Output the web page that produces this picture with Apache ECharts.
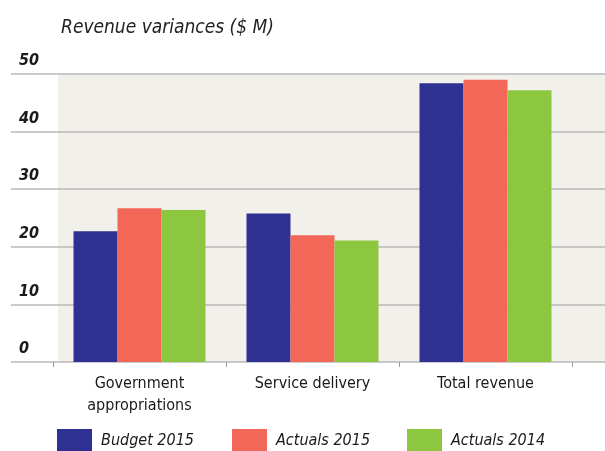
<!DOCTYPE html>
<html>
<head>
<meta charset="utf-8">
<script src="https://cdn.jsdelivr.net/npm/echarts@6/dist/echarts.min.js"></script>
<style>
  html, body { margin: 0; padding: 0; background: #fff; }
  #main { width: 605px; height: 451px; }
</style>
</head>
<body>
<div id="main"></div>
<script>
var categories = ['Government\nappropriations', 'Service delivery', 'Total revenue'];
var seriesNames = ['Budget 2015', 'Actuals 2015', 'Actuals 2014'];
var budget2015 = [22.7, 25.8, 48.4];
var actuals2015 = [26.7, 22.0, 49.0];
var actuals2014 = [26.4, 21.1, 47.2];
var yTicks = [0, 10, 20, 30, 40, 50];

var colors = ['#2e3192', '#f26757', '#8dc63f'];
var font = '"DejaVu Sans Condensed", "Liberation Sans Narrow", sans-serif';

var myChart = echarts.init(document.getElementById('main'));

function bar(name, data, color) {
  return {
    name: name,
    type: 'bar',
    xAxisIndex: 2,
    yAxisIndex: 2,
    barWidth: 44,
    barGap: '0%',
    itemStyle: { color: color },
    data: data
  };
}

// one legend per item so they sit on a fixed spacing
var legendLefts = [57, 232, 407];
var legends = seriesNames.map(function (name, i) {
  return {
    left: legendLefts[i],
    top: 429,
    padding: 0,
    itemWidth: 35,
    itemHeight: 24,
    icon: 'rect',
    data: [name],
    textStyle: {
      fontFamily: font, fontStyle: 'italic', fontSize: 16, color: '#1a1a1a',
      padding: [0, 0, 0, 4]
    }
  };
});

var option = {
  animation: false,
  color: colors,
  title: {
    text: 'Revenue variances ($ M)',
    left: 56,
    top: 14,
    textStyle: { fontFamily: font, fontStyle: 'italic', fontWeight: 'normal', fontSize: 19, color: '#222' }
  },
  legend: legends,
  grid: [
    // shaded plot background
    { left: 58, right: 0, top: 74, bottom: 89, show: true, backgroundColor: '#f2f0eb', borderWidth: 0 },
    // gridlines running out to the labels
    { left: 11, right: 0, top: 74, bottom: 89 },
    // bars
    { left: 53, right: 33, top: 74, bottom: 89 }
  ],
  xAxis: [
    { gridIndex: 0, type: 'value', show: false },
    { gridIndex: 1, type: 'value', show: false },
    {
      gridIndex: 2,
      type: 'category',
      data: categories,
      axisLine: { show: false },
      axisTick: { show: true, length: 5, lineStyle: { color: '#999' } },
      axisLabel: { margin: 11, fontFamily: font, fontSize: 16, lineHeight: 22, color: '#1a1a1a' }
    }
  ],
  yAxis: [
    { gridIndex: 0, type: 'value', show: false },
    {
      gridIndex: 1,
      type: 'value',
      min: yTicks[0],
      max: yTicks[yTicks.length - 1],
      interval: 10,
      axisLine: { show: false },
      axisTick: { show: false },
      splitLine: { lineStyle: { color: '#b8b8b8', width: 1.5 } },
      axisLabel: {
        inside: true,
        margin: 8,
        verticalAlign: 'bottom',
        padding: [0, 0, 5, 0],
        fontFamily: font, fontStyle: 'italic', fontWeight: 'bold', fontSize: 16, color: '#1a1a1a'
      }
    },
    { gridIndex: 2, type: 'value', min: 0, max: 50, show: false }
  ],
  series: [
    bar(seriesNames[0], budget2015, colors[0]),
    bar(seriesNames[1], actuals2015, colors[1]),
    bar(seriesNames[2], actuals2014, colors[2])
  ]
};

myChart.setOption(option);
</script>
</body>
</html>
